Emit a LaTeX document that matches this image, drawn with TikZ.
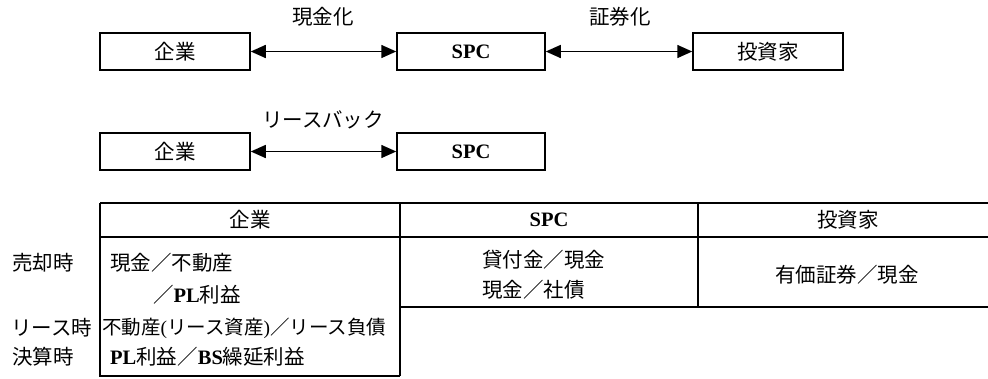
\documentclass[tikz,border=0pt]{standalone}
\usepackage{fontspec}
\setmainfont{Liberation Serif}
\newfontfamily\cjk{Noto Sans CJK JP}
\usetikzlibrary{arrows.meta}
\newcommand\jtxt[1]{{\cjk #1}}
\begin{document}
\begin{tikzpicture}[x=1pt,y=-1pt,
  txt/.style={font=\fontsize{20.5}{24}\selectfont, inner sep=0pt},
  entity/.style={draw, line width=1.5pt, minimum width=150pt, minimum height=37pt,
                 font=\fontsize{20.5}{24}\selectfont, inner sep=0pt},
  arr/.style={line width=1.5pt, {Triangle[length=15pt,width=13pt]}-{Triangle[length=15pt,width=13pt]}},
  grid/.style={line width=1.3pt}]
\useasboundingbox (0,0) rectangle (988,378);

% top row
\node[entity] (c1) at (175,51.5) {\jtxt{企業}};
\node[entity, minimum width=148pt] (s1) at (471,51.5) {\textbf{SPC}};
\node[entity] (i1) at (768,51.5) {\jtxt{投資家}};
\draw[arr] (c1.east) -- (s1.west);
\draw[arr] (s1.east) -- (i1.west);
\node[txt] (l1) at (323,17) {\jtxt{現金化}};
\node[txt] (l2) at (620,17) {\jtxt{証券化}};

% second row
\node[entity] (c2) at (175,151.5) {\jtxt{企業}};
\node[entity, minimum width=148pt] (s2) at (471,151.5) {\textbf{SPC}};
\draw[arr] (c2.east) -- (s2.west);
\node[txt] (l3) at (323,120) {\jtxt{リースバック}};

% table grid
\draw[grid] (100,203) -- (988,203);
\draw[grid] (100,237) -- (988,237);
\draw[grid] (400,307) -- (988,307);
\draw[grid] (100,203) -- (100,376) -- (400,376);
\draw[grid] (400,203) -- (400,376);
\draw[grid] (698,203) -- (698,307);

% headers
\node[txt] (h1) at (250,220) {\jtxt{企業}};
\node[txt] (h2) at (549,220) {\textbf{SPC}};
\node[txt] (h3) at (848,220) {\jtxt{投資家}};

% row labels
\node[txt, anchor=west] (r1) at (12,263) {\jtxt{売却時}};
\node[txt, anchor=west] (r2) at (11,328) {\jtxt{リース時}};
\node[txt, anchor=west] (r3) at (12,357) {\jtxt{決算時}};

% company column
\node[txt, anchor=west] (e1) at (110,263) {\jtxt{現金／不動産}};
\node[txt, anchor=west] (e2) at (153,295) {\jtxt{／}\textbf{PL}\jtxt{利益}};
\node[txt, anchor=west, font=\fontsize{19.5}{24}\selectfont] (e3) at (102,328) {\jtxt{不動産}(\jtxt{リース資産})\jtxt{／リース負債}};
\node[txt, anchor=west] (e4) at (110,357) {\textbf{PL}\jtxt{利益／}\textbf{BS}\jtxt{繰延利益}};

% SPC column
\node[txt, anchor=west] (p1) at (482,260) {\jtxt{貸付金／現金}};
\node[txt, anchor=west] (p2) at (482,290) {\jtxt{現金／社債}};

% investor column
\node[txt] (v1) at (847,275) {\jtxt{有価証券／現金}};
\end{tikzpicture}
\end{document}
